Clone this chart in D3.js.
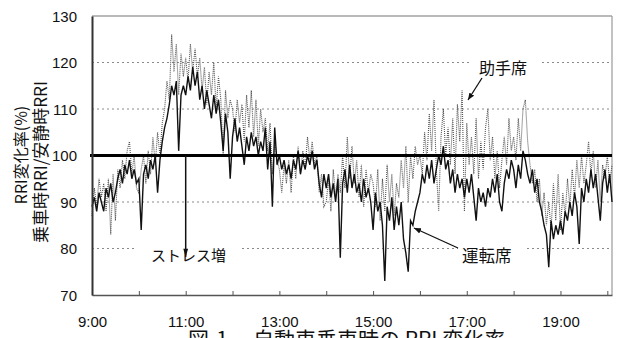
<!DOCTYPE html>
<html><head><meta charset="utf-8">
<script src="https://cdn.jsdelivr.net/npm/d3@7"></script>
<style>
html,body{margin:0;padding:0;background:#fff;}
svg{display:block;}
</style></head>
<body>
<svg id="c" width="617" height="338"></svg>
<script>
// ---- data (3-minute samples from 9:00) ----
const startHour = 9;
const stepMinutes = 3;
const driver = [
 // 9:00
 89,91,88,92,90,88,93,91,94,90,92,95,97,94,98,96,99,95,97,94,
 // 10:00
 95,84,96,98,95,99,97,100,92,99,103,106,108,111,115,113,116,101,113,115,
 // 11:00
 113,117,114,119,115,118,112,115,110,114,111,108,113,109,112,107,101,109,105,95,
 // 12:00
 104,108,103,106,102,98,104,101,105,102,104,100,103,101,106,97,103,89,106,98,
 // 13:00
 100,97,99,96,98,95,99,97,101,96,99,97,100,98,101,97,99,94,91,96,
 // 14:00
 93,96,91,94,90,95,78,94,97,92,98,93,96,92,94,90,95,91,93,90,
 // 15:00
 84,92,88,90,85,73,89,86,91,84,89,85,90,82,79,75,86,85,88,90,
 // 16:00
 92,96,94,98,95,99,94,97,100,98,102,97,99,94,97,92,96,93,95,91,
 // 17:00
 95,92,96,91,86,93,90,92,89,93,91,95,92,96,90,88,94,97,95,99,
 // 18:00
 97,93,98,95,101,99,96,94,97,92,95,90,88,85,83,76,86,82,85,83,
 // 19:00
 86,83,88,86,90,87,92,89,81,93,90,95,92,97,93,96,91,86,94,97,
 // 20:00
 92,96,90
];
const passenger = [
 // 9:00
 87,93,89,95,91,94,88,95,83,96,86,97,93,99,95,101,103,96,100,93,
 // 10:00
 92,97,100,94,101,96,104,98,105,100,107,110,116,112,126,118,124,113,122,117,
 // 11:00
 121,116,124,118,123,117,121,114,119,111,118,113,120,110,117,112,100,114,108,112,
 // 12:00
 110,105,112,107,111,103,113,106,114,104,112,102,110,105,108,101,107,96,103,99,
 // 13:00
 97,92,98,94,99,92,100,95,102,96,101,97,104,99,103,98,100,92,96,89,
 // 14:00
 90,95,88,97,91,96,92,100,93,104,95,102,94,99,91,98,89,97,92,96,
 // 15:00
 94,89,97,86,95,88,98,90,96,87,94,91,99,93,102,90,100,95,102,98,
 // 16:00
 100,96,105,99,109,101,112,97,88,104,110,100,106,98,108,96,111,103,114,88,
 // 17:00
 107,98,104,96,108,95,103,97,106,110,99,104,95,101,93,99,104,98,108,101,
 // 18:00
 104,99,108,101,110,112,103,98,94,97,90,95,87,92,85,90,84,94,86,96,
 // 19:00
 84,92,87,95,89,97,91,99,93,100,94,98,103,96,101,93,99,90,98,95,
 // 20:00
 100,94,98
];
const yTicks = [70,80,90,100,110,120,130];
const gridValues = [80,90,110,120];
const xTickHours = [9,10,11,12,13,14,15,16,17,18,19,20];
const xTickLabels = ["9:00","11:00","13:00","15:00","17:00","19:00"];
const yTitle1 = "RRI変化率(%)";
const yTitle2 = "乗車時RRI/安静時RRI";
const caption1 = "図-1";
const caption2 = "自動車乗車時の RRI 変化率";
const labelStress = "ストレス増";
const labelPassenger = "助手席";
const labelDriver = "運転席";

// ---- layout ----
const L = 92, R = 612, T = 16, B = 295;
const svg = d3.select("#c");
const day = (h, m) => new Date(2000, 0, 1, h, m || 0);
const t0 = day(startHour, 0);
const times = driver.map((_, i) => new Date(+t0 + i * stepMinutes * 60000));
const x = d3.scaleTime().domain([t0, day(20, 6)]).range([L, R]);
const y = d3.scaleLinear().domain([70, 130]).range([B, T]);

const sans = "'Liberation Sans', Arial, sans-serif";
const jp = "'Noto Sans CJK JP', 'Noto Sans', sans-serif";

// gridlines
svg.append("g").selectAll("line").data(gridValues).join("line")
  .attr("x1", L).attr("x2", R).attr("y1", d => y(d)).attr("y2", d => y(d))
  .attr("stroke", "#8a8a8a").attr("stroke-width", 1).attr("stroke-dasharray", "2,3");

// frame (top, right)
svg.append("line").attr("x1", L).attr("x2", R).attr("y1", T).attr("y2", T)
  .attr("stroke", "#777").attr("stroke-width", 1.2);
svg.append("line").attr("x1", R).attr("x2", R).attr("y1", T).attr("y2", B)
  .attr("stroke", "#999").attr("stroke-width", 1.2);

// label backgrounds (break gridlines)
function bg(x0, y0, w, h) {
  svg.append("rect").attr("x", x0).attr("y", y0).attr("width", w).attr("height", h).attr("fill", "#fff");
}
bg(136, 244, 104, 22);
bg(472, 57, 68, 22);
bg(458, 245, 67, 22);

// series
const line = d3.line().x((d, i) => x(times[i])).y(d => y(d));
svg.append("path").datum(passenger).attr("d", line)
  .attr("fill", "none").attr("stroke", "#555").attr("stroke-width", 1.1)
  .attr("stroke-dasharray", "1,1");
svg.append("path").datum(driver).attr("d", line)
  .attr("fill", "none").attr("stroke", "#111").attr("stroke-width", 1.4);

// 100 reference line
svg.append("line").attr("x1", L - 2).attr("x2", R).attr("y1", y(100)).attr("y2", y(100))
  .attr("stroke", "#000").attr("stroke-width", 3);

// axes
const xAxis = d3.axisBottom(x)
  .tickValues(xTickHours.map(h => day(h, 0)))
  .tickSizeInner(-4).tickSizeOuter(0).tickPadding(21)
  .tickFormat(d => { const s = d.getHours() + ":00"; return xTickLabels.includes(s) ? s : ""; });
const gx = svg.append("g").attr("transform", `translate(0,${B})`).call(xAxis);
gx.select(".domain").attr("stroke", "#555").attr("stroke-width", 1.5);
gx.selectAll(".tick line").attr("stroke", "#555");
gx.selectAll("text").attr("font-family", sans).attr("font-size", 15).attr("fill", "#111");

const yAxis = d3.axisLeft(y).tickValues(yTicks).tickSize(0).tickPadding(15).tickFormat(d3.format("d"));
const gy = svg.append("g").attr("transform", `translate(${L},0)`).call(yAxis);
gy.select(".domain").attr("stroke", "#333").attr("stroke-width", 2);
gy.selectAll("text").attr("font-family", sans).attr("font-size", 15).attr("fill", "#111").attr("dy", "0.36em");

// y titles
svg.append("text").attr("transform", "translate(20,155) rotate(-90)")
  .attr("text-anchor", "middle").attr("dominant-baseline", "central")
  .attr("font-family", jp).attr("font-size", 16).attr("fill", "#111").text(yTitle1);
svg.append("text").attr("transform", "translate(39,162) rotate(-90)")
  .attr("text-anchor", "middle").attr("dominant-baseline", "central")
  .attr("font-family", jp).attr("font-size", 17).attr("fill", "#111").text(yTitle2);

// arrows
const defs = svg.append("defs");
defs.append("marker").attr("id", "ah").attr("viewBox", "0 0 10 10")
  .attr("refX", 10).attr("refY", 5).attr("markerWidth", 7).attr("markerHeight", 7)
  .attr("markerUnits", "userSpaceOnUse").attr("orient", "auto")
  .append("path").attr("d", "M0,1 L10,5 L0,9 Z").attr("fill", "#111");
defs.append("marker").attr("id", "ah2").attr("viewBox", "0 0 10 10")
  .attr("refX", 10).attr("refY", 5).attr("markerWidth", 10).attr("markerHeight", 8)
  .attr("markerUnits", "userSpaceOnUse").attr("orient", "auto")
  .append("path").attr("d", "M0,2 L10,5 L0,8 Z").attr("fill", "#111");

svg.append("line").attr("x1", x(day(11, 0))).attr("x2", x(day(11, 0)))
  .attr("y1", y(100)).attr("y2", y(78.2))
  .attr("stroke", "#111").attr("stroke-width", 1.5).attr("marker-end", "url(#ah2)");
svg.append("line").attr("x1", 482).attr("y1", 78).attr("x2", 468).attr("y2", 100)
  .attr("stroke", "#111").attr("stroke-width", 1.3).attr("marker-end", "url(#ah)");
svg.append("line").attr("x1", 458).attr("y1", 248).attr("x2", 414).attr("y2", 228)
  .attr("stroke", "#111").attr("stroke-width", 1.3).attr("marker-end", "url(#ah)");

// labels
svg.append("text").attr("x", 151).attr("y", 261).attr("font-family", jp).attr("font-size", 15)
  .attr("fill", "#111").text(labelStress);
svg.append("text").attr("x", 479).attr("y", 74).attr("font-family", jp).attr("font-size", 16)
  .attr("fill", "#111").text(labelPassenger);
svg.append("text").attr("x", 462).attr("y", 262).attr("font-family", jp).attr("font-size", 16.5)
  .attr("fill", "#111").text(labelDriver);

// caption (cut off by window bottom, as in the reference)
svg.append("text").attr("x", 188).attr("y", 347).attr("font-family", jp).attr("font-size", 21)
  .attr("fill", "#111").text(caption1);
svg.append("text").attr("x", 253).attr("y", 347).attr("font-family", jp).attr("font-size", 21)
  .attr("fill", "#111").text(caption2);
</script>
</body></html>
